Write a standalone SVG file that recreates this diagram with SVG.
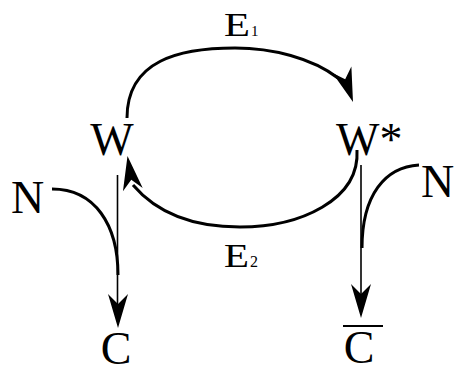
<svg xmlns="http://www.w3.org/2000/svg" xmlns:xlink="http://www.w3.org/1999/xlink" width="455" height="374" viewBox="0 0 455 374">
<style>
.t{font-family:"Liberation Serif","Times New Roman",serif;fill:#000}
.big{font-size:46px}
.sub{font-size:15px}
.thick{fill:none;stroke:#000;stroke-width:3}
.thin{fill:none;stroke:#000;stroke-width:1.6}
.ah{fill:#000;stroke:none}
</style>
<defs>
<path id="ah" class="ah" d="M0,0 L-34,-10 L-24,0 L-34,10 Z"/>
</defs>
<rect width="455" height="374" fill="#fff"/>
<g id="connectors">
<path class="thick" d="M127,118 C127,60 180,48 235,48 C272,48 312,58 338,78"/>
<use xlink:href="#ah" href="#ah" transform="translate(353,102) rotate(71)"/>
<path class="thick" d="M357,150 C360,200 300,227 240,227 C180,227 150,205 133,185"/>
<use xlink:href="#ah" href="#ah" transform="translate(127.5,156) rotate(-99)"/>
<path class="thick" d="M52,189 C95,189 118,225 118,275"/>
<path class="thin" d="M117.5,175 L117.5,305"/>
<use xlink:href="#ah" href="#ah" transform="translate(118,328) rotate(90)"/>
<path class="thick" d="M419,165 C385,167 362,195 362,248"/>
<path class="thin" d="M361,165 L361,295"/>
<use xlink:href="#ah" href="#ah" transform="translate(361,318) rotate(90)"/>
<g id="label-E1">
<text class="t" x="224" y="36" font-size="33" textLength="26" lengthAdjust="spacingAndGlyphs">E</text>
<text class="t sub" x="251" y="36">1</text>
</g>
<g id="label-E2">
<text class="t" x="224" y="267" font-size="33" textLength="25" lengthAdjust="spacingAndGlyphs">E</text>
<text class="t" x="250" y="267" font-size="16">2</text>
</g>
</g>
<g id="node-W"><text class="t big" x="112" y="155" text-anchor="middle">W</text></g>
<g id="node-Wstar"><text class="t big" x="336" y="155">W*</text></g>
<g id="node-N1"><text class="t big" x="11" y="213">N</text></g>
<g id="node-N2"><text class="t big" x="421" y="197">N</text></g>
<g id="node-C1"><text class="t big" x="116" y="364" text-anchor="middle">C</text></g>
<g id="node-C2">
<line x1="343" y1="326" x2="383" y2="326" stroke="#000" stroke-width="2"/>
<text class="t big" x="359" y="363" text-anchor="middle">C</text>
</g>
</svg>
